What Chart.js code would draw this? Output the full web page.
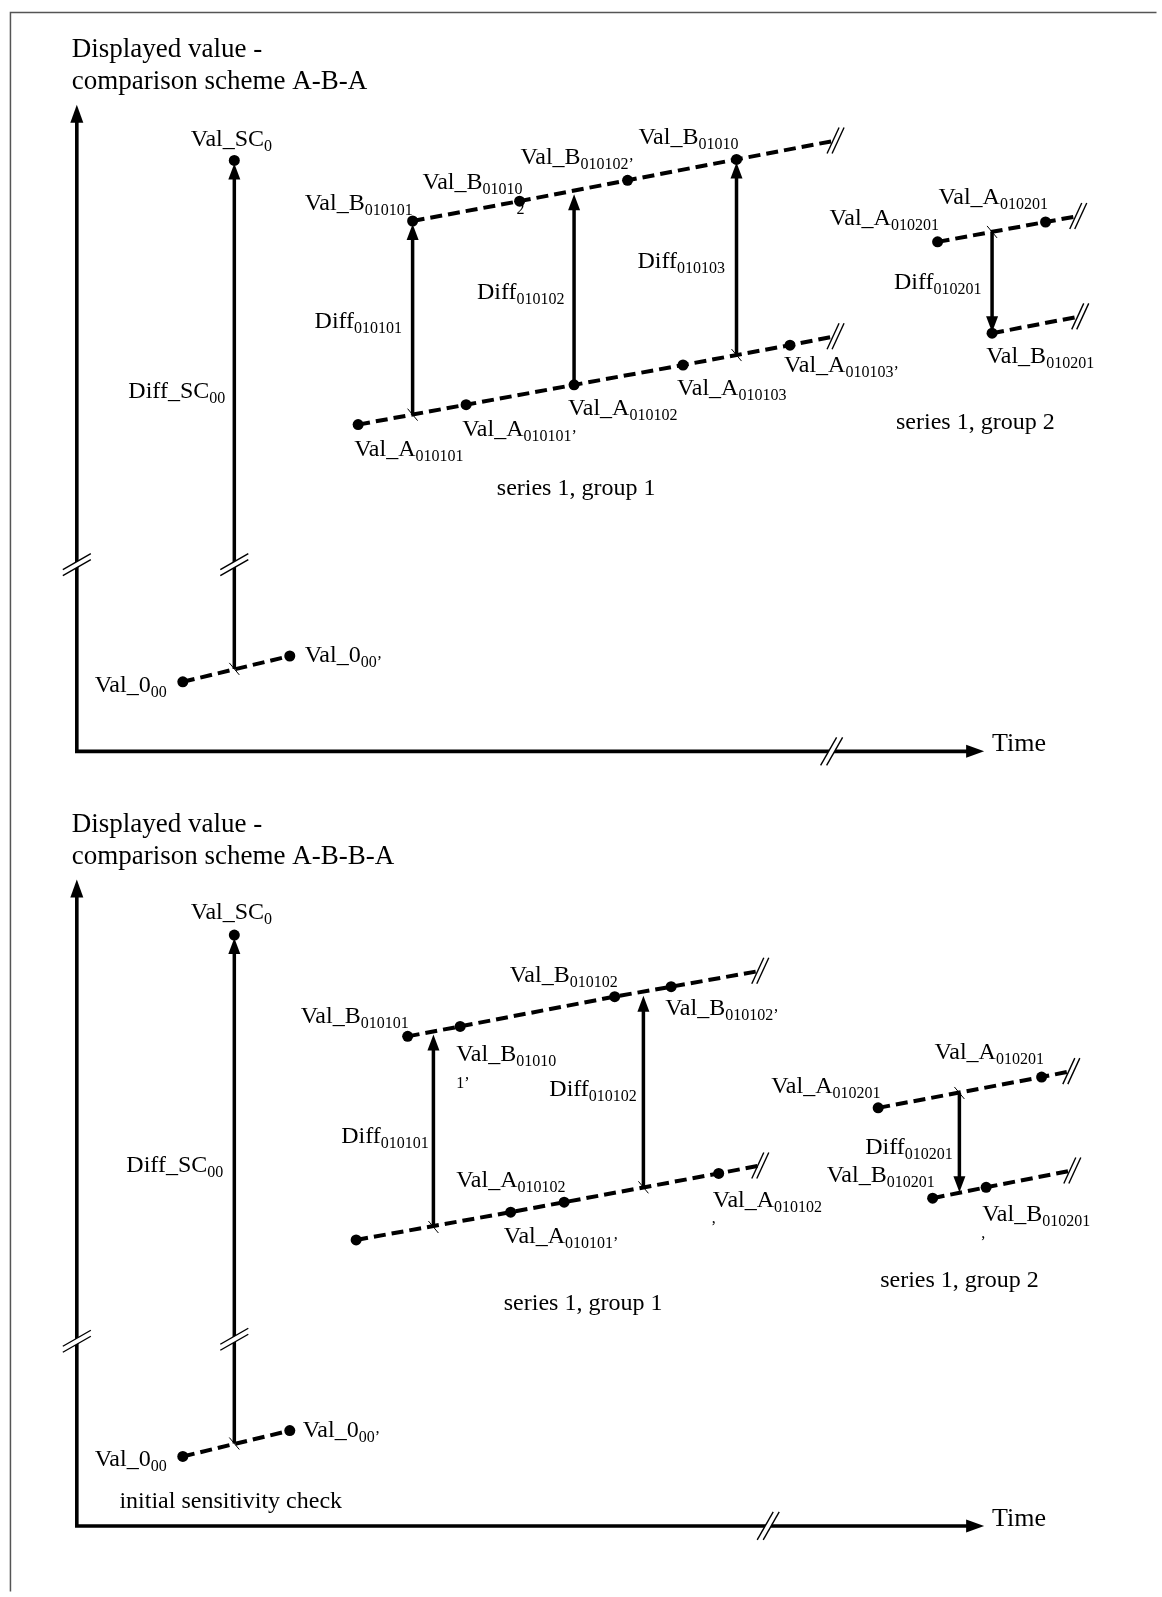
<!DOCTYPE html>
<html>
<head>
<meta charset="utf-8">
<script src="https://cdn.jsdelivr.net/npm/chart.js@4.4.1/dist/chart.umd.min.js"></script>
<style>
html,body{margin:0;padding:0;background:#fff;}
#wrap{width:1162px;height:1597px;position:relative;}
canvas{display:block;}
</style>
</head>
<body>
<div id="wrap"><canvas id="c" width="1162" height="1597"></canvas></div>
<script>
// ===== Figure values (x = time position, y = displayed-value position, figure units) =====
// ---- Panel 1: comparison scheme A-B-A ----
const p1_val0  = [[179,681],[287,655]];                                   // Val_0_00 , Val_0_00'
const p1_valSC = [[231,156]];                                             // Val_SC_0
const p1_g1_B  = [[411,217],[519,197],[628,176],[738,155],[838,136]];     // group 1, B readings (last = break)
const p1_g1_A  = [[356,422],[465,402],[574,382],[684,362],[792,342],[838,333]];
const p1_g2_A  = [[941,238],[1050,218],[1083,212]];
const p1_g2_B  = [[996,330],[1085,313]];
const p1_arrows = [[231,668,156,1],[411,412,217,1],[574,382,187,0],[738,352,155,1],[996,228,330,1]]; // x, tail, tip, tail-tick
const p1_arrowBreaks = [[231,563]];
const p1_axes = {x0:72, y0:751, yTip:100, xTip:988, yBreak:563, xBreak:834};
const p1_labels = [
  [187,133,'Val_SC','0'],[124,387,'Diff_SC','00'],[90,683,'Val_0','00'],[302,653,'Val_0','00\u2019'],
  [302,198,'Val_B','010101'],[421,177,'Val_B','01010'],[520,152,'Val_B','010102\u2019'],[639,131,'Val_B','01010'],
  [312,317,'Diff','010101'],[476,287,'Diff','010102'],[638,256,'Diff','010103'],
  [352,446,'Val_A','010101'],[461,425,'Val_A','010101\u2019'],[568,404,'Val_A','010102'],
  [678,384,'Val_A','010103'],[786,361,'Val_A','010103\u2019'],
  [832,213,'Val_A','010201'],[942,192,'Val_A','010201'],[897,277,'Diff','010201'],[990,352,'Val_B','010201']
];
const p1_texts = [[67,43,'Displayed value -',27],[67,75,'comparison scheme A-B-A',27],
  [496,485,'series 1, group 1',24],[899,418,'series 1, group 2',24],[996,742,'Time',26]];
const p1_frags = [[516,210,'2']];

// ---- Panel 2: comparison scheme A-B-B-A ----
const p2_val0  = [[179,1461],[287,1435]];
const p2_valSC = [[231,936]];
const p2_g1_B  = [[406,1038],[459,1028],[615,998],[672,988],[762,972]];
const p2_g1_A  = [[354,1243],[510,1215],[564,1205],[720,1176],[762,1168]];
const p2_g2_A  = [[881,1110],[1046,1079],[1076,1073]];
const p2_g2_B  = [[936,1201],[990,1190],[1077,1173]];
const p2_arrows = [[231,1448,936,1],[432,1230,1033,1],[644,1190,994,1],[963,1095,1196,1]];
const p2_arrowBreaks = [[231,1343]];
const p2_axes = {x0:72, y0:1531, yTip:880, xTip:988, yBreak:1345, xBreak:770};
const p2_labels = [
  [187,912,'Val_SC','0'],[122,1167,'Diff_SC','00'],[90,1463,'Val_0','00'],[300,1433,'Val_0','00\u2019'],
  [298,1017,'Val_B','010101'],[455,1055,'Val_B','01010'],[509,975,'Val_B','010102'],[666,1008,'Val_B','010102\u2019'],
  [339,1137,'Diff','010101'],[549,1090,'Diff','010102'],
  [455,1182,'Val_A','010102'],[503,1238,'Val_A','010101\u2019'],[714,1202,'Val_A','010102'],
  [773,1087,'Val_A','010201'],[938,1053,'Val_A','010201'],[868,1148,'Diff','010201'],
  [829,1177,'Val_B','010201'],[986,1216,'Val_B','010201']
];
const p2_texts = [[67,823,'Displayed value -',27],[67,855,'comparison scheme A-B-B-A',27],
  [115,1505,'initial sensitivity check',24],[503,1305,'series 1, group 1',24],[883,1282,'series 1, group 2',24],[996,1522,'Time',26]];
const p2_frags = [[455,1090,'1\u2019'],[713,1226,','],[985,1241,',']];

// ===== Drawing =====
const FONT = '"Liberation Serif", "Times New Roman", serif';
const MAIN = 24, SUB = 16;

function lineDs(pts, brk) {
  return {
    data: pts.map(p => ({x:p[0], y:p[1]})),
    showLine: true, borderColor:'#000', borderWidth:4, borderDash:[12,6], borderCapStyle:'butt',
    pointRadius: pts.map((p,i) => (brk && i === pts.length-1) ? 0 : 5.5),
    pointBackgroundColor:'#000', pointBorderColor:'#000', pointBorderWidth:0,
    brk: brk
  };
}
function dotDs(pts) {
  return { data: pts.map(p => ({x:p[0], y:p[1]})), showLine:false,
    pointRadius:5.5, pointBackgroundColor:'#000', pointBorderColor:'#000', pointBorderWidth:0, brk:false };
}

const datasets = [
  lineDs(p1_val0,false), dotDs(p1_valSC), lineDs(p1_g1_B,true), lineDs(p1_g1_A,true), lineDs(p1_g2_A,true), lineDs(p1_g2_B,true),
  lineDs(p2_val0,false), dotDs(p2_valSC), lineDs(p2_g1_B,true), lineDs(p2_g1_A,true), lineDs(p2_g2_A,true), lineDs(p2_g2_B,true)
];

const panels = [
  {axes:p1_axes, arrows:p1_arrows, arrowBreaks:p1_arrowBreaks, labels:p1_labels, texts:p1_texts, frags:p1_frags},
  {axes:p2_axes, arrows:p2_arrows, arrowBreaks:p2_arrowBreaks, labels:p2_labels, texts:p2_texts, frags:p2_frags}
];

function arrowHead(ctx, x, y, dirY, len, half) {
  ctx.beginPath();
  ctx.moveTo(x, y);
  ctx.lineTo(x - half, y - dirY*len);
  ctx.lineTo(x + half, y - dirY*len);
  ctx.closePath(); ctx.fill();
}
function arrowHeadX(ctx, x, y, len, half) {
  ctx.beginPath();
  ctx.moveTo(x, y);
  ctx.lineTo(x - len, y - half);
  ctx.lineTo(x - len, y + half);
  ctx.closePath(); ctx.fill();
}
function breakMark(ctx, cx, cy, hx, hy, ox, oy, fill) {
  if (fill) {
    ctx.fillStyle = '#fff';
    ctx.beginPath();
    ctx.moveTo(cx-hx-ox, cy+hy-oy); ctx.lineTo(cx+hx-ox, cy-hy-oy);
    ctx.lineTo(cx+hx+ox, cy-hy+oy); ctx.lineTo(cx-hx+ox, cy+hy+oy);
    ctx.closePath(); ctx.fill();
  }
  ctx.strokeStyle = '#000'; ctx.lineWidth = 1.4; ctx.setLineDash([]);
  for (const s of [-1,1]) {
    ctx.beginPath();
    ctx.moveTo(cx-hx+s*ox, cy+hy+s*oy);
    ctx.lineTo(cx+hx+s*ox, cy-hy+s*oy);
    ctx.stroke();
  }
}

const schematic = {
  id:'schematic',
  beforeDatasetsDraw(chart) {
    const ctx = chart.ctx, xs = chart.scales.x, ys = chart.scales.y;
    const X = v => xs.getPixelForValue(v), Y = v => ys.getPixelForValue(v);
    ctx.save();
    // frame
    ctx.strokeStyle = '#555'; ctx.lineWidth = 1.5;
    ctx.beginPath(); ctx.moveTo(X(5), Y(1597)); ctx.lineTo(X(5), Y(7)); ctx.lineTo(X(1162), Y(7)); ctx.stroke();
    for (const p of panels) {
      const a = p.axes;
      ctx.strokeStyle = '#000'; ctx.fillStyle = '#000'; ctx.lineWidth = 3.6; ctx.lineCap = 'butt';
      ctx.beginPath();
      ctx.moveTo(X(a.x0), Y(a.yTip) + 12); ctx.lineTo(X(a.x0), Y(a.y0));
      ctx.lineTo(X(a.xTip) - 12, Y(a.y0));
      ctx.stroke();
      arrowHead(ctx, X(a.x0), Y(a.yTip), -1, 18, 6.5);
      arrowHeadX(ctx, X(a.xTip), Y(a.y0), 18, 6.5);
      // value-difference arrows
      ctx.lineWidth = 3.5;
      for (const ar of p.arrows) {
        const x = X(ar[0]), yt = Y(ar[1]), yh = Y(ar[2]);
        const dir = yh > yt ? 1 : -1;
        ctx.beginPath(); ctx.moveTo(x, yt); ctx.lineTo(x, yh - dir*12); ctx.stroke();
        arrowHead(ctx, x, yh + (dir < 0 ? 3 : -1), dir, 16, 6);
      }
    }
    ctx.restore();
  },
  afterDatasetsDraw(chart) {
    const ctx = chart.ctx, xs = chart.scales.x, ys = chart.scales.y;
    const X = v => xs.getPixelForValue(v), Y = v => ys.getPixelForValue(v);
    ctx.save();
    // breaks at ends of dashed lines
    chart.data.datasets.forEach(ds => {
      if (!ds.brk) return;
      const last = ds.data[ds.data.length-1];
      breakMark(ctx, X(last.x), Y(last.y), 6, 13, 2.5, 0, false);
    });
    for (const p of panels) {
      const a = p.axes;
      breakMark(ctx, X(a.x0), Y(a.yBreak), 14, 8, 0, 3, true);
      breakMark(ctx, X(a.xBreak), Y(a.y0), 8, 14, 3, 0, true);
      for (const b of p.arrowBreaks) breakMark(ctx, X(b[0]), Y(b[1]), 14, 8, 0, 3, true);
      // tail ticks
      ctx.strokeStyle = '#000'; ctx.lineWidth = 1;
      for (const ar of p.arrows) {
        if (!ar[3]) continue;
        const x = X(ar[0]), y = Y(ar[1]);
        ctx.beginPath(); ctx.moveTo(x-5, y-6); ctx.lineTo(x+5, y+6); ctx.stroke();
      }
      // labels
      ctx.fillStyle = '#000'; ctx.textAlign = 'left'; ctx.textBaseline = 'alphabetic';
      for (const l of p.labels) {
        const x = X(l[0]), y = Y(l[1]) + 8;
        ctx.font = MAIN + 'px ' + FONT;
        ctx.fillText(l[2], x, y);
        const w = ctx.measureText(l[2]).width;
        ctx.font = SUB + 'px ' + FONT;
        ctx.fillText(l[3], x + w, y + 5);
      }
      for (const t of p.texts) {
        ctx.font = t[3] + 'px ' + FONT;
        ctx.fillText(t[2], X(t[0]), Y(t[1]) + t[3]*0.34);
      }
      ctx.font = SUB + 'px ' + FONT;
      for (const f of p.frags) ctx.fillText(f[2], X(f[0]), Y(f[1]));
    }
    ctx.restore();
  }
};

new Chart(document.getElementById('c'), {
  type:'scatter',
  data:{ datasets },
  options:{
    responsive:false, animation:false, events:[],
    layout:{ padding:0 },
    scales:{
      x:{ type:'linear', min:0, max:1162, display:false },
      y:{ type:'linear', min:0, max:1597, reverse:true, display:false }
    },
    plugins:{ legend:{display:false}, tooltip:{enabled:false} }
  },
  plugins:[schematic]
});
</script>
</body>
</html>
